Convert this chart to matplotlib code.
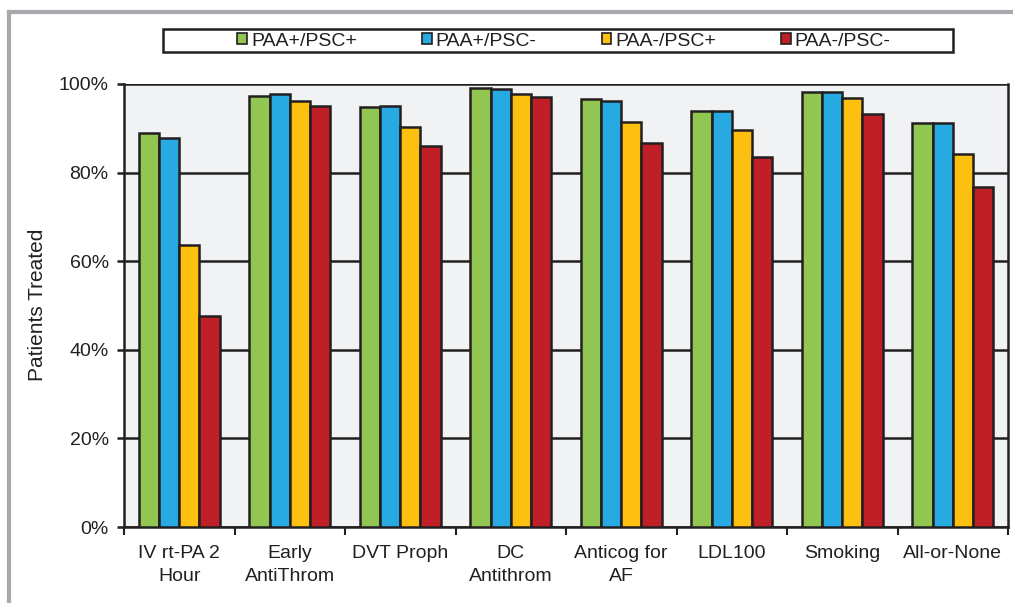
import matplotlib
matplotlib.use('Agg')
import matplotlib.pyplot as plt
from matplotlib.patches import Rectangle
from matplotlib.lines import Line2D
from matplotlib.ticker import FixedLocator, PercentFormatter
import numpy as np

plt.rcParams['font.family'] = ['Liberation Sans', 'DejaVu Sans']

categories = ['IV rt-PA 2\nHour', 'Early\nAntiThrom', 'DVT Proph', 'DC\nAntithrom',
              'Anticog for\nAF', 'LDL100', 'Smoking', 'All-or-None']
series_names = ['PAA+/PSC+', 'PAA+/PSC-', 'PAA-/PSC+', 'PAA-/PSC-']
paa_pos_psc_pos = [89.0, 97.3, 94.8, 99.1, 96.6, 94.0, 98.3, 91.1]
paa_pos_psc_neg = [87.9, 97.7, 95.0, 98.8, 96.2, 94.0, 98.3, 91.1]
paa_neg_psc_pos = [63.7, 96.2, 90.3, 97.7, 91.4, 89.6, 96.9, 84.2]
paa_neg_psc_neg = [47.6, 95.0, 86.0, 97.0, 86.7, 83.5, 93.3, 76.8]
yticks = [0, 20, 40, 60, 80, 100]

colors = ['#92C653', '#27AAE1', '#FDC010', '#C01F27']
series = [paa_pos_psc_pos, paa_pos_psc_neg, paa_neg_psc_pos, paa_neg_psc_neg]

fig = plt.figure(figsize=(10.13, 6.03), dpi=100)
W, H = 1013, 603
ax = fig.add_axes([124 / W, 1 - 527 / H, (1008 - 124) / W, (527 - 84) / H])
ax.set_facecolor('#F1F2F4')

x = np.arange(len(categories))
bw = 0.183
for i, (vals, c) in enumerate(zip(series, colors)):
    ax.bar(x + (i - 1.5) * bw, vals, bw, color=c, edgecolor='#231F20',
           linewidth=1.8, zorder=3)

ax.set_xlim(-0.5, len(categories) - 0.5)
ax.set_ylim(0, 100)
ax.set_yticks(yticks)
ax.yaxis.set_major_formatter(PercentFormatter(decimals=0))
ax.grid(axis='y', color='#231F20', linewidth=1.8, zorder=1)
ax.set_axisbelow(True)

ax.set_xticks(x)
ax.set_xticklabels(categories, fontsize=14, color='#231F20', linespacing=1.45)
ax.xaxis.set_minor_locator(FixedLocator(np.arange(-0.5, len(categories), 1.0)))
ax.tick_params(axis='x', which='major', length=0, pad=13)
ax.tick_params(axis='x', which='minor', length=6, width=1.5, color='#231F20')
ax.tick_params(axis='y', length=5, width=1.8, color='#231F20', labelsize=14,
               labelcolor='#231F20', pad=6)

for s in ['left', 'bottom']:
    ax.spines[s].set_linewidth(1.8)
    ax.spines[s].set_color('#231F20')
ax.spines['top'].set_visible(False)
ax.spines['right'].set_color('#231F20')
ax.spines['right'].set_linewidth(1.8)

ax.set_ylabel('Patients Treated', fontsize=15, color='#231F20')
ax.yaxis.set_label_coords(47 / W, (H - 305) / H, transform=fig.transFigure)

# outer gray frame
fig.add_artist(Line2D([9 / W, 9 / W], [0, 1 - 12 / H], color='#A7A9AC', linewidth=3,
                      transform=fig.transFigure))
fig.add_artist(Line2D([9 / W, 1], [1 - 12 / H, 1 - 12 / H], color='#A7A9AC', linewidth=3,
                      transform=fig.transFigure))

# legend box
fig.add_artist(Rectangle((163 / W, 1 - 52 / H), (953 - 163) / W, 23 / H,
                         transform=fig.transFigure, facecolor='white',
                         edgecolor='#231F20', linewidth=1.8))
handles = [Rectangle((0, 0), 1, 1, facecolor=c, edgecolor='#231F20', linewidth=1.2)
           for c in colors]
leg = fig.legend(handles, series_names, loc='center', ncol=4, frameon=False,
                 bbox_to_anchor=(564 / W, 1 - 41 / H), fontsize=14,
                 handlelength=0.5, handleheight=0.5, handletextpad=0.2,
                 columnspacing=3.35)
for t in leg.get_texts():
    t.set_color('#231F20')

fig.savefig('out.png', dpi=100)
